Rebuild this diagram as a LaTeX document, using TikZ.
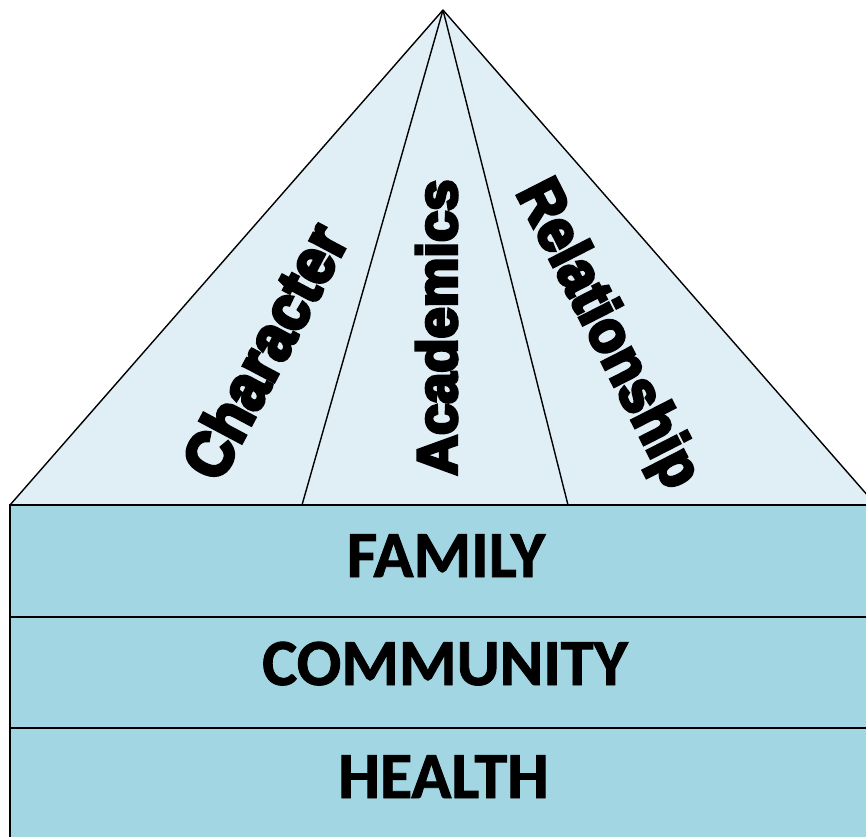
\documentclass[tikz,border=0pt]{standalone}
\usepackage{fontspec}
\setmainfont{Carlito}[BoldFeatures={FakeBold=1.4}]
\newfontfamily\heavy{Liberation Sans}[UprightFont=* Bold, FakeBold=6]
\definecolor{roofblue}{RGB}{223,239,245}
\definecolor{bandblue}{RGB}{162,214,226}
\tikzset{
  roof/.style={fill=roofblue, draw=black, line width=1.4pt, line join=round},
  divider/.style={draw=black, line width=1.4pt},
  band/.style={fill=bandblue, draw=black, line width=2.4pt},
  pillar/.style={font=\heavy\fontsize{56}{56}\selectfont, inner sep=0pt, text=black},
  bandtext/.style={font=\bfseries\fontsize{66}{66}\selectfont, inner sep=0pt, anchor=base, text=black}
}
\begin{document}
\begin{tikzpicture}[x=1pt,y=-1pt]
\useasboundingbox (0,0) rectangle (866,836);
\clip (0,0) rectangle (866,836);
\coordinate (apex) at (443,10);
\coordinate (bl) at (10,505);
\coordinate (br) at (876,505);
\coordinate (d1) at (302,505);
\coordinate (d2) at (568,505);
\draw[roof] (apex) -- (bl) -- (br) -- cycle;
\draw[divider] (apex) -- (d1);
\draw[divider] (apex) -- (d2);
\node[pillar, rotate=62, xscale=1.06, yscale=1.15] (character) at (264,351) {Character};
\node[pillar, rotate=90, yscale=1.0] (academics) at (436.5,327.5) {Academics};
\node[pillar, rotate=-63, yscale=1.08] (relationship) at (606,335) {Relationship};
\draw[band] (10,505) rectangle (890,617);
\draw[band] (10,617) rectangle (890,728);
\draw[band] (10,728) rectangle (890,850);
\node[bandtext] (family) at (446,577) {FAMILY};
\node[bandtext] (community) at (445,685) {COMMUNITY};
\node[bandtext] (health) at (443.5,798) {HEALTH};
\end{tikzpicture}
\end{document}
